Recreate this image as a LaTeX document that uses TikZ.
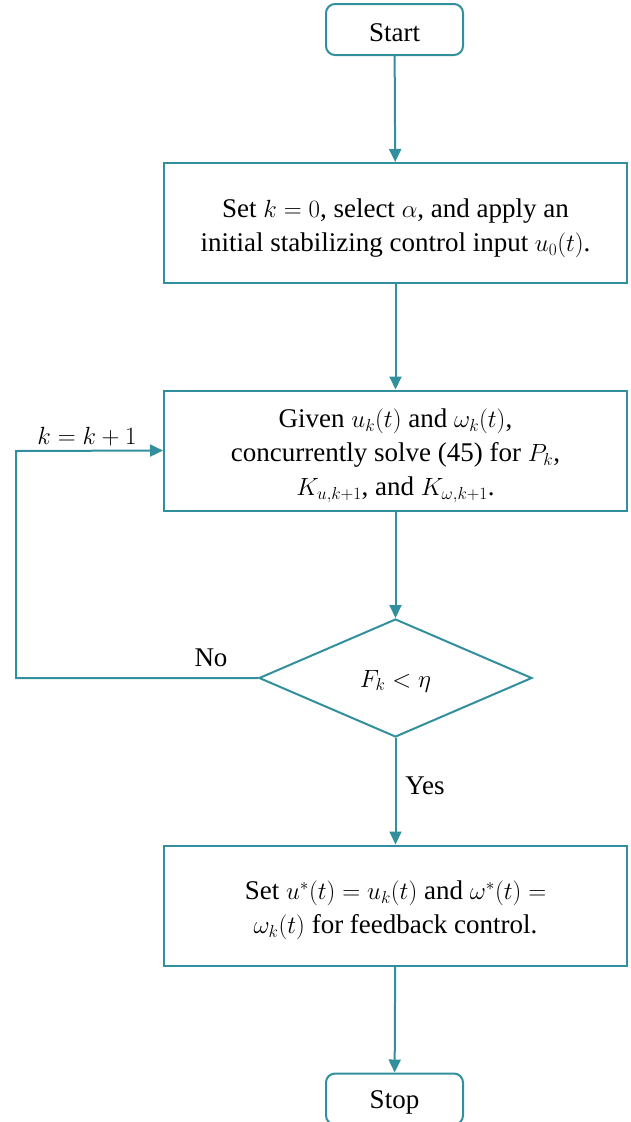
\documentclass[tikz,border=0pt]{standalone}
\usepackage{fontspec}
\setmainfont{Liberation Serif}
\usetikzlibrary{shapes.geometric,arrows.meta}
\definecolor{flow}{RGB}{49,143,158}
\newcommand\bxt[1]{\raisebox{-5pt}[\height][\depth]{\parbox{450pt}{\centering #1}}}
\newcommand\lowt[1]{\raisebox{-3pt}[\height][\depth]{#1}}
\begin{document}
\begin{tikzpicture}[x=1pt,y=-1pt,
  every node/.style={font=\fontsize{27}{34}\selectfont},
  term/.style={draw=flow,line width=2pt,rounded corners=9pt,minimum width=137pt,minimum height=51pt,inner sep=0pt},
  procbox/.style={draw=flow,line width=2pt,minimum width=463pt,minimum height=120pt,inner sep=0pt},
  decide/.style={draw=flow,line width=2pt,diamond,minimum width=273pt,minimum height=118pt,inner sep=0pt},
  conn/.style={draw=flow,line width=2pt,-{Triangle[length=13pt,width=12pt]}}
]
\useasboundingbox (0,0) rectangle (630,1122);
\node[term] (start) at (394.5,29.5) {\lowt{Start}};
\node[procbox] (b1) at (395.5,223) {\bxt{Set $k=0$, select $\alpha$, and apply an\\initial stabilizing control input $u_0(t)$.}};
\node[procbox] (b2) at (395.5,450.5) {\bxt{Given $u_k(t)$ and $\omega_k(t)$,\\concurrently solve (45) for $P_k$,\\$K_{u,k+1}$, and $K_{\omega,k+1}$.}};
\node[decide] (d) at (395.5,678) {\lowt{$F_k<\eta$}};
\node[procbox] (b3) at (395.5,905.5) {\bxt{Set $u^*(t)=u_k(t)$ and $\omega^*(t)=$\\$\omega_k(t)$ for feedback control.}};
\node[term] (stop) at (394.5,1099) {\lowt{Stop}};
\coordinate (c1) at (16,678);
\coordinate (c2) at (16,451);
\draw[conn] (start) -- (b1);
\draw[conn] (b1) -- (b2);
\draw[conn] (b2) -- (d);
\draw[conn] (d) -- (b3);
\draw[conn] (b3) -- (stop);
\draw[conn] (d.west) -- (c1) -- (c2) -- (b2.west);
\node (no) at (211,658) {No};
\node (kk) at (87,437) {$k=k+1$};
\node (yes) at (425,786) {Yes};
\end{tikzpicture}
\end{document}
